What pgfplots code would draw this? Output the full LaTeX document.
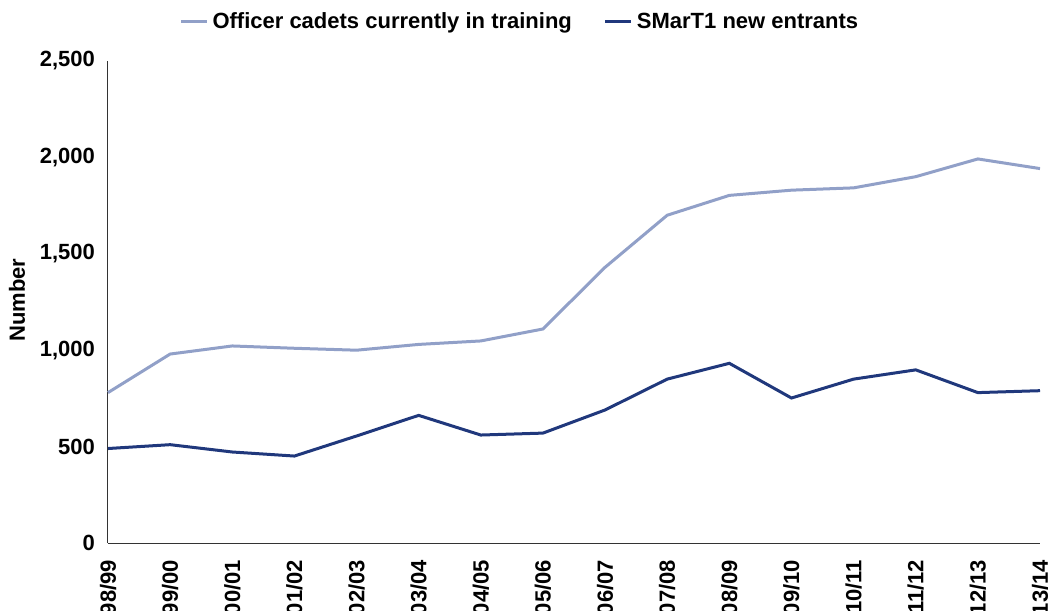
\documentclass[border=0pt]{standalone}
\usepackage{pgfplots}
\pgfplotsset{compat=1.18}
\usepackage{fontspec}
\setmainfont{Liberation Sans}
\definecolor{cadet}{RGB}{145,160,200}
\definecolor{smart}{RGB}{32,56,124}
\begin{document}
\begin{tikzpicture}
\clip (-54pt,-33.5pt) rectangle (470pt,271.5pt);
\begin{axis}[
  at={(0,0)}, anchor=origin,
  scale only axis, width=466pt, height=241pt,
  xmin=0, xmax=15, ymin=0, ymax=2500,
  axis lines=left, axis line style={-, line width=0.5pt, black!80},
  xtick={0,...,15},
  xticklabels={98/99,99/00,00/01,01/02,02/03,03/04,04/05,05/06,06/07,07/08,08/09,09/10,10/11,11/12,12/13,13/14},
  ytick={0,500,1000,1500,2000,2500},
  major tick length=0pt,
  /pgf/number format/.cd, 1000 sep={,}, assume math mode=true, /pgfplots/.cd,
  tick label style={font=\fontsize{11}{13}\selectfont\bfseries},
  yticklabel style={xshift=-3pt},
  xticklabel shift=5pt,
  xticklabel style={rotate=90, anchor=east},
  ylabel={Number},
  ylabel style={font=\fontsize{11}{13}\selectfont\bfseries, at={(axis description cs:-0.0976,0.504)}, anchor=center, rotate=0},
  legend style={at={(axis description cs:0.443,1.081)}, anchor=center, draw=none, fill=none,
    legend columns=2, font=\fontsize{11}{13}\selectfont\bfseries,
    inner sep=0pt,
    /tikz/every even column/.append style={column sep=14pt}},
  legend image code/.code={\draw[#1, line width=1.5pt] (0pt,0pt) -- (13pt,0pt);},
  clip=false,
]
\addplot[cadet, line width=1.5pt, sharp plot] coordinates {
(0,780) (1,980) (2,1022) (3,1010) (4,1000) (5,1030) (6,1048) (7,1110)
(8,1430) (9,1700) (10,1803) (11,1830) (12,1842) (13,1900) (14,1992) (15,1942)};
\addlegendentry{Officer cadets currently in training}
\addplot[smart, line width=1.5pt, sharp plot] coordinates {
(0,490) (1,510) (2,472) (3,451) (4,555) (5,662) (6,560) (7,570)
(8,690) (9,850) (10,932) (11,752) (12,850) (13,898) (14,780) (15,790)};
\addlegendentry{SMarT1 new entrants}
\end{axis}
\end{tikzpicture}
\end{document}
